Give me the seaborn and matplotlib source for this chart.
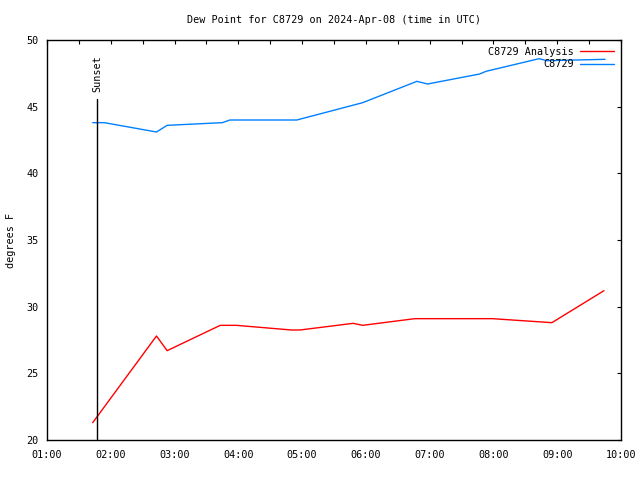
import matplotlib
matplotlib.use("Agg")
import matplotlib.pyplot as plt
import seaborn as sns
import pandas as pd
from matplotlib.ticker import FixedLocator, MultipleLocator

sns.set_theme(style="white")
plt.rcParams['font.family'] = ['DejaVu Sans Mono', 'DejaVu Sans']
plt.rcParams['text.color'] = 'black'
plt.rcParams['axes.labelcolor'] = 'black'

obs_times = ["01:43", "01:54", "02:43", "02:53", "03:45", "03:52", "04:55",
             "05:57", "06:48", "06:58", "07:47", "07:53", "08:43", "08:50", "09:45"]
obs_vals = [43.8, 43.8, 43.1, 43.6, 43.8, 44.0, 44.0,
            45.3, 46.9, 46.7, 47.45, 47.65, 48.6, 48.45, 48.55]

ana_times = ["01:43", "02:43", "02:53", "03:43", "03:58", "04:50", "04:58",
             "05:48", "05:57", "06:46", "07:59", "08:55", "09:44"]
ana_vals = [21.3, 27.8, 26.7, 28.6, 28.6, 28.25, 28.25,
            28.75, 28.6, 29.1, 29.1, 28.8, 31.2]

sunset_time = "01:47"
sunset_top = 45.6

x_tick_labels = ["01:00", "02:00", "03:00", "04:00", "05:00",
                 "06:00", "07:00", "08:00", "09:00", "10:00"]
y_ticks = [20, 25, 30, 35, 40, 45, 50]


def to_h(s):
    h, m = s.split(":")
    return int(h) + int(m) / 60.0


df = pd.concat([
    pd.DataFrame({"t": [to_h(s) for s in ana_times], "v": ana_vals, "s": "C8729 Analysis"}),
    pd.DataFrame({"t": [to_h(s) for s in obs_times], "v": obs_vals, "s": "C8729"}),
])

FS = 7.3

fig = plt.figure(figsize=(6.4, 4.8), dpi=100)
ax = fig.add_axes([47 / 640, 40 / 480, 574 / 640, 400 / 480])

sns.lineplot(data=df, x="t", y="v", hue="s", sort=False,
             palette={"C8729 Analysis": "#ff0000", "C8729": "#0080ff"},
             linewidth=1.0, ax=ax, legend=True)

st = to_h(sunset_time)
ax.plot([st, st], [20, sunset_top], color="black", linewidth=1.0)
ax.text(st, 46.1, "Sunset", rotation=90, ha="center", va="bottom", fontsize=FS)

xt = [to_h(s) for s in x_tick_labels]
ax.set_xlim(xt[0], xt[-1])
ax.set_ylim(20, 50)
ax.xaxis.set_major_locator(FixedLocator(xt))
ax.set_xticklabels(x_tick_labels)
ax.xaxis.set_minor_locator(MultipleLocator(0.5))
ax.set_yticks(y_ticks)
ax.set_yticklabels([str(v) for v in y_ticks])
ax.tick_params(axis="both", which="both", direction="in", length=4.5 / 1.389,
               width=0.8, colors="black", labelcolor="black", top=True, right=True,
               labelsize=FS)
ax.tick_params(axis="x", which="major", pad=7)
ax.tick_params(axis="y", which="major", pad=6)
for sp in ax.spines.values():
    sp.set_color("black")
    sp.set_linewidth(1.0)

ax.set_xlabel("")
ax.set_ylabel("degrees F", fontsize=FS, labelpad=7.5, color="black")
ax.set_title("Dew Point for C8729 on 2024-Apr-08 (time in UTC)", fontsize=FS,
             pad=12, color="black")

leg = ax.legend(loc="upper right", frameon=False, fontsize=FS, markerfirst=False,
                handlelength=3.4, handletextpad=0.6, labelspacing=0.25,
                borderaxespad=0.25)
for t in leg.get_texts():
    t.set_color("black")

fig.savefig("out.png", dpi=100)
